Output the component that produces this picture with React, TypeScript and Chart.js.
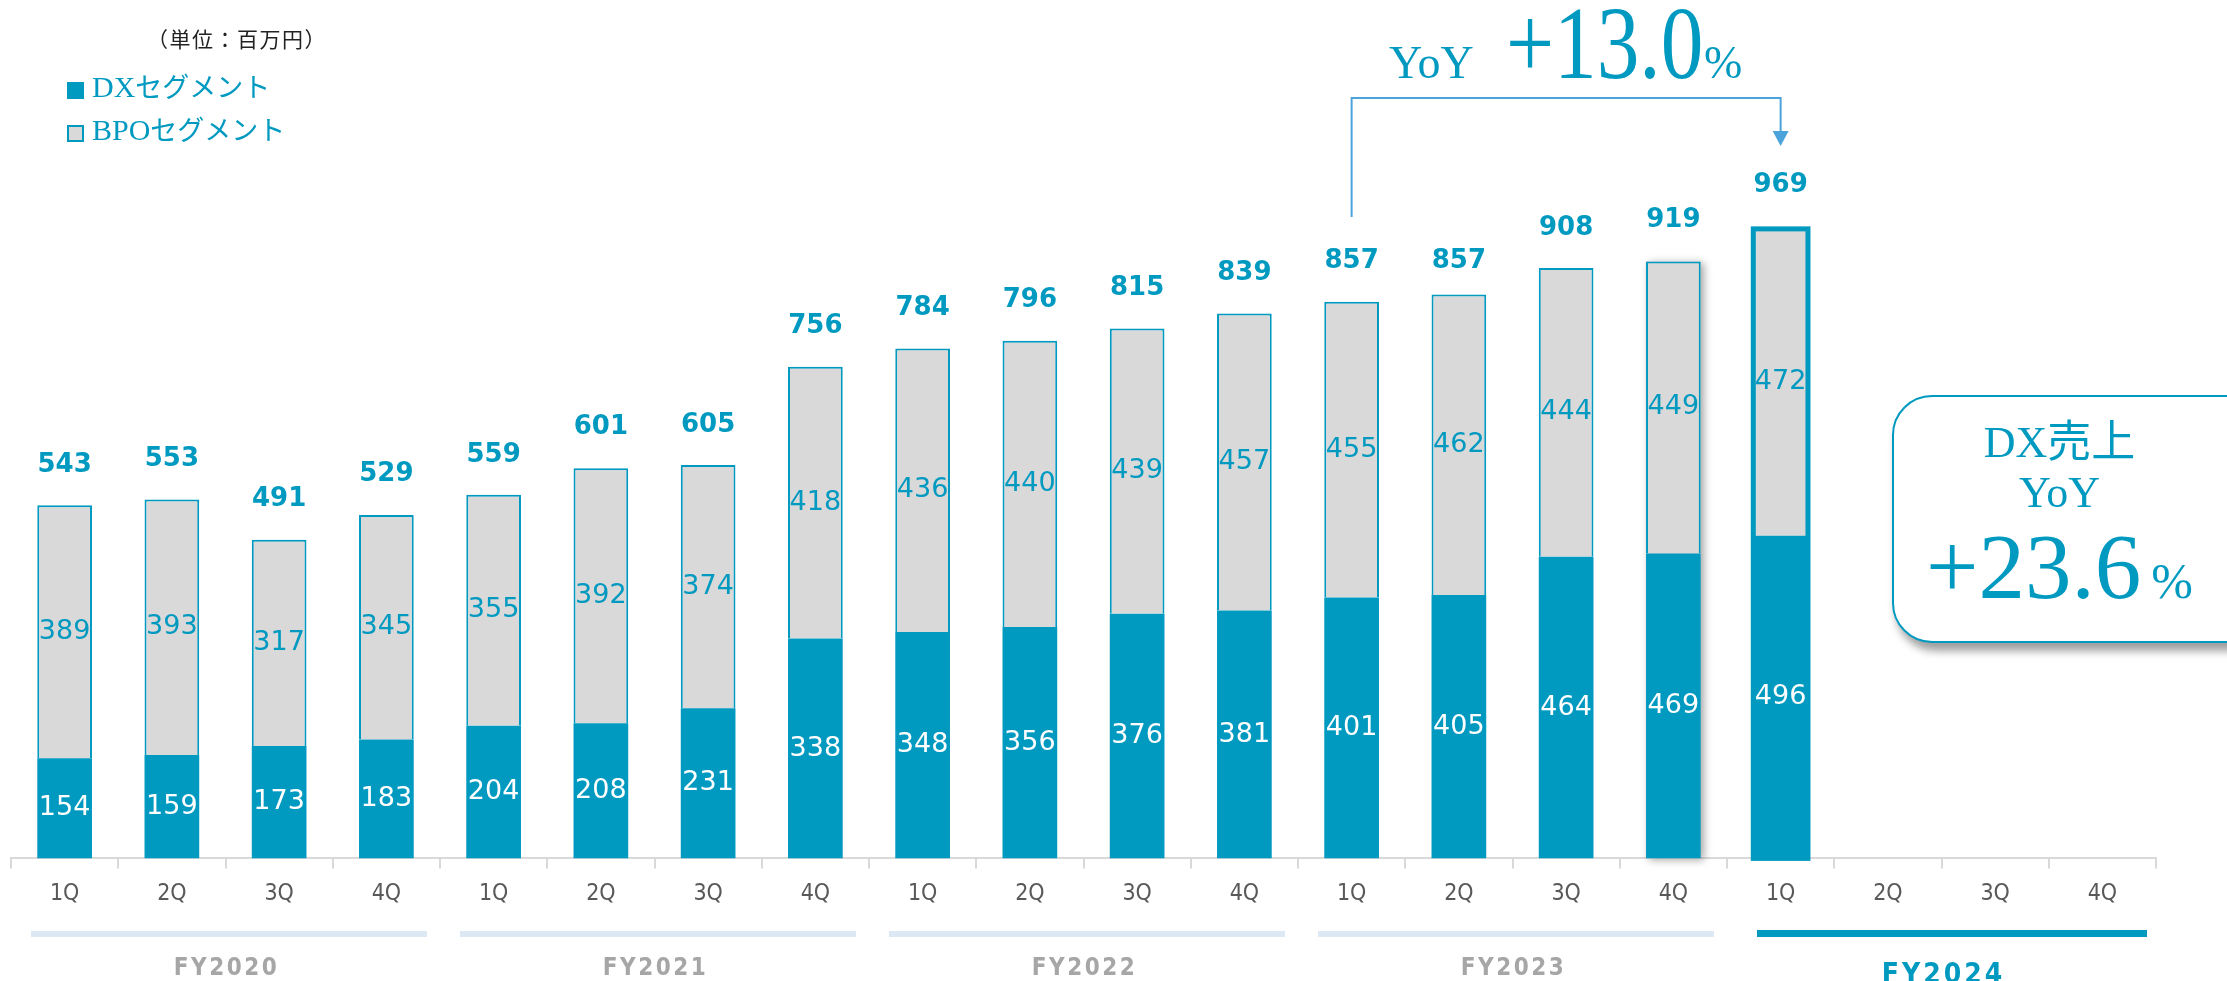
import React, { useEffect, useRef } from "react";
import { Chart, registerables } from "chart.js";

Chart.register(...registerables);

const quarterLabels = [
  "1Q", "2Q", "3Q", "4Q",
  "1Q", "2Q", "3Q", "4Q",
  "1Q", "2Q", "3Q", "4Q",
  "1Q", "2Q", "3Q", "4Q",
  "1Q", "2Q", "3Q", "4Q",
];
const fiscalYears = ["FY2020", "FY2021", "FY2022", "FY2023", "FY2024"];
const dxValues = [154, 159, 173, 183, 204, 208, 231, 338, 348, 356, 376, 381, 401, 405, 464, 469, 496, null, null, null];
const bpoValues = [389, 393, 317, 345, 355, 392, 374, 418, 436, 440, 439, 457, 455, 462, 444, 449, 472, null, null, null];
const totalLabels = [543, 553, 491, 529, 559, 601, 605, 756, 784, 796, 815, 839, 857, 857, 908, 919, 969, null, null, null];
const highlightIndex = 16;
const shadowIndex = 15;
const yoyFromIndex = 12;

const TEAL = "#0099C0";
const GREY = "#D9D9D9";
const ARROW = "#4BA3DB";

const overlayPlugin = {
  id: "overlay",
  beforeDatasetsDraw(chart: any) {
    const ctx = chart.ctx;
    const b = chart.getDatasetMeta(1).data[shadowIndex];
    const d = chart.getDatasetMeta(0).data[shadowIndex];
    if (!b || !d) return;
    ctx.save();
    ctx.shadowColor = "rgba(0,0,0,0.35)";
    ctx.shadowBlur = 8;
    ctx.shadowOffsetX = 3;
    ctx.shadowOffsetY = 2;
    ctx.fillStyle = GREY;
    ctx.fillRect(b.x - b.width / 2, b.y, b.width, d.base - b.y);
    ctx.restore();
  },
  afterDatasetsDraw(chart: any) {
    const ctx = chart.ctx;
    const metaDx = chart.getDatasetMeta(0);
    const metaBpo = chart.getDatasetMeta(1);
    const xs = chart.scales.x;
    const ys = chart.scales.y;

    // highlighted bar outline
    const hb = metaBpo.data[highlightIndex];
    const hd = metaDx.data[highlightIndex];
    ctx.save();
    ctx.strokeStyle = TEAL;
    ctx.lineWidth = 5;
    ctx.strokeRect(hb.x - hb.width / 2, hb.y, hb.width, hd.base - hb.y);
    ctx.restore();

    // value labels
    ctx.save();
    ctx.textAlign = "center";
    ctx.textBaseline = "middle";
    for (let i = 0; i < quarterLabels.length; i++) {
      if (dxValues[i] == null) continue;
      const d = metaDx.data[i];
      const b = metaBpo.data[i];
      ctx.font = '27px "DejaVu Sans"';
      ctx.fillStyle = "#FFFFFF";
      ctx.fillText(String(dxValues[i]), d.x, (d.y + d.base) / 2);
      ctx.fillStyle = TEAL;
      ctx.fillText(String(bpoValues[i]), b.x, (b.y + b.base) / 2);
      ctx.font = 'bold 26px "DejaVu Sans"';
      const ty = ys.getPixelForValue(totalLabels[i] as number) - (i === highlightIndex ? 43 : 40);
      ctx.fillText(String(totalLabels[i]), b.x, ty);
    }
    ctx.restore();

    // YoY bracket
    const x1 = xs.getPixelForValue(yoyFromIndex);
    const x2 = xs.getPixelForValue(highlightIndex);
    ctx.save();
    ctx.strokeStyle = ARROW;
    ctx.lineWidth = 2;
    ctx.beginPath();
    ctx.moveTo(x1, 217);
    ctx.lineTo(x1, 98);
    ctx.lineTo(x2, 98);
    ctx.lineTo(x2, 134);
    ctx.stroke();
    ctx.fillStyle = ARROW;
    ctx.beginPath();
    ctx.moveTo(x2 - 8, 131);
    ctx.lineTo(x2 + 8, 131);
    ctx.lineTo(x2, 146);
    ctx.closePath();
    ctx.fill();
    ctx.restore();

    // fiscal-year bands and labels
    const cw = xs.width / quarterLabels.length;
    ctx.save();
    for (let g = 0; g < fiscalYears.length; g++) {
      const left = xs.getPixelForValue(g * 4) - cw / 2;
      const right = xs.getPixelForValue(g * 4 + 3) + cw / 2;
      const current = g === fiscalYears.length - 1;
      ctx.fillStyle = current ? TEAL : "#DCE8F4";
      if (current) ctx.fillRect(left + 30, 930, right - left - 39, 7);
      else ctx.fillRect(left + 20, 931, right - left - 33, 6);
      ctx.textAlign = "center";
      ctx.textBaseline = "alphabetic";
      if (current) {
        ctx.font = 'bold 28px "DejaVu Sans Condensed", "DejaVu Sans"';
        (ctx as any).letterSpacing = "3px";
        ctx.fillStyle = TEAL;
        ctx.fillText(fiscalYears[g], (left + right) / 2 + 2, 983);
      } else {
        ctx.font = 'bold 24px "DejaVu Sans Condensed", "DejaVu Sans"';
        (ctx as any).letterSpacing = "2.5px";
        ctx.fillStyle = "#A6A6A6";
        ctx.fillText(fiscalYears[g], (left + right) / 2 + 1, 975);
      }
    }
    ctx.restore();
  },
};

export default function App() {
  const canvasRef = useRef<HTMLCanvasElement | null>(null);

  useEffect(() => {
    const canvas = canvasRef.current;
    if (!canvas) return;
    const chart = new Chart(canvas, {
      type: "bar",
      data: {
        labels: quarterLabels,
        datasets: [
          {
            label: "DXセグメント",
            data: dxValues as any,
            backgroundColor: TEAL,
            borderWidth: 0,
            stack: "s",
          },
          {
            label: "BPOセグメント",
            data: bpoValues as any,
            backgroundColor: GREY,
            borderColor: TEAL,
            borderWidth: ((c: any) =>
              c.dataIndex === highlightIndex ? 0 : { top: 2, left: 2, right: 2, bottom: 0 }) as any,
            stack: "s",
          },
        ],
      },
      options: {
        responsive: false,
        animation: false,
        devicePixelRatio: 1,
        datasets: { bar: { barPercentage: 0.51, categoryPercentage: 1 } },
        layout: { padding: { left: 11, right: 71, top: 78, bottom: 61 } },
        plugins: {
          legend: { display: false },
          tooltip: { enabled: false },
          title: { display: false },
        },
        scales: {
          x: {
            stacked: true,
            grid: {
              display: true,
              drawOnChartArea: false,
              drawTicks: true,
              tickLength: 10,
              color: GREY,
              lineWidth: 2,
              offset: true,
            },
            border: { display: true, color: GREY, width: 2 },
            ticks: {
              autoSkip: false,
              maxRotation: 0,
              padding: 12,
              color: "#595959",
              font: { family: '"DejaVu Sans Condensed", "DejaVu Sans"', size: 23 },
            },
          },
          y: {
            stacked: true,
            display: false,
            min: 0,
            max: 1200,
          },
        },
      },
      plugins: [overlayPlugin],
    });
    return () => chart.destroy();
  }, []);

  const serif = '"Liberation Serif", "Noto Sans CJK JP", serif';
  const abs = (extra: any) => ({
    position: "absolute" as const,
    lineHeight: 1,
    whiteSpace: "nowrap" as const,
    fontFamily: serif,
    color: TEAL,
    ...extra,
  });

  return (
    <div
      style={{
        position: "fixed",
        left: 0,
        top: 0,
        width: 2227,
        height: 981,
        overflow: "hidden",
        background: "#FFFFFF",
      }}
    >
      <canvas ref={canvasRef} width={2227} height={981} style={{ display: "block", position: "absolute", left: 0, top: 0 }} />

      {/* unit */}
      <div
        style={abs({
          left: 147,
          top: 28,
          fontFamily: '"Noto Sans CJK JP", sans-serif',
          fontSize: 21,
          letterSpacing: 1.5,
          color: "#222222",
        })}
      >
        （単位：百万円）
      </div>

      {/* legend */}
      <div style={{ position: "absolute", left: 67, top: 82, width: 17, height: 17, background: TEAL }} />
      <div style={abs({ left: 92, top: 72, fontSize: 30 })}>
        DX<span style={{ fontSize: 27 }}>セグメント</span>
      </div>
      <div
        style={{
          position: "absolute",
          left: 67,
          top: 125,
          width: 17,
          height: 17,
          background: GREY,
          border: `2px solid ${TEAL}`,
          boxSizing: "border-box",
        }}
      />
      <div style={abs({ left: 92, top: 115, fontSize: 30 })}>
        BPO<span style={{ fontSize: 27 }}>セグメント</span>
      </div>

      {/* YoY headline */}
      <div style={abs({ left: 1389, top: 39.5, fontSize: 46 })}>YoY</div>
      <div
        style={abs({
          left: 1506,
          top: -9,
          fontSize: 104,
          transform: "scaleX(0.82)",
          transformOrigin: "left top",
        })}
      >
        +13.0
      </div>
      <div style={abs({ left: 1704, top: 39.5, fontSize: 46 })}>%</div>

      {/* DX YoY box */}
      <div
        style={{
          position: "absolute",
          left: 1892,
          top: 395,
          width: 420,
          height: 248,
          border: `2px solid ${TEAL}`,
          borderRadius: 40,
          background: "#FFFFFF",
          boxSizing: "border-box",
          boxShadow: "4px 8px 9px rgba(0,0,0,0.38)",
        }}
      />
      <div style={abs({ left: 1892, top: 421, width: 335, textAlign: "center", fontSize: 44 })}>DX売上</div>
      <div style={abs({ left: 1892, top: 471, width: 335, textAlign: "center", fontSize: 44 })}>YoY</div>
      <div style={abs({ left: 1892, top: 520, width: 335, textAlign: "center", fontSize: 93 })}>
        <span>+23.6</span>
        <span style={{ fontSize: 50, marginLeft: 10 }}>%</span>
      </div>
    </div>
  );
}
